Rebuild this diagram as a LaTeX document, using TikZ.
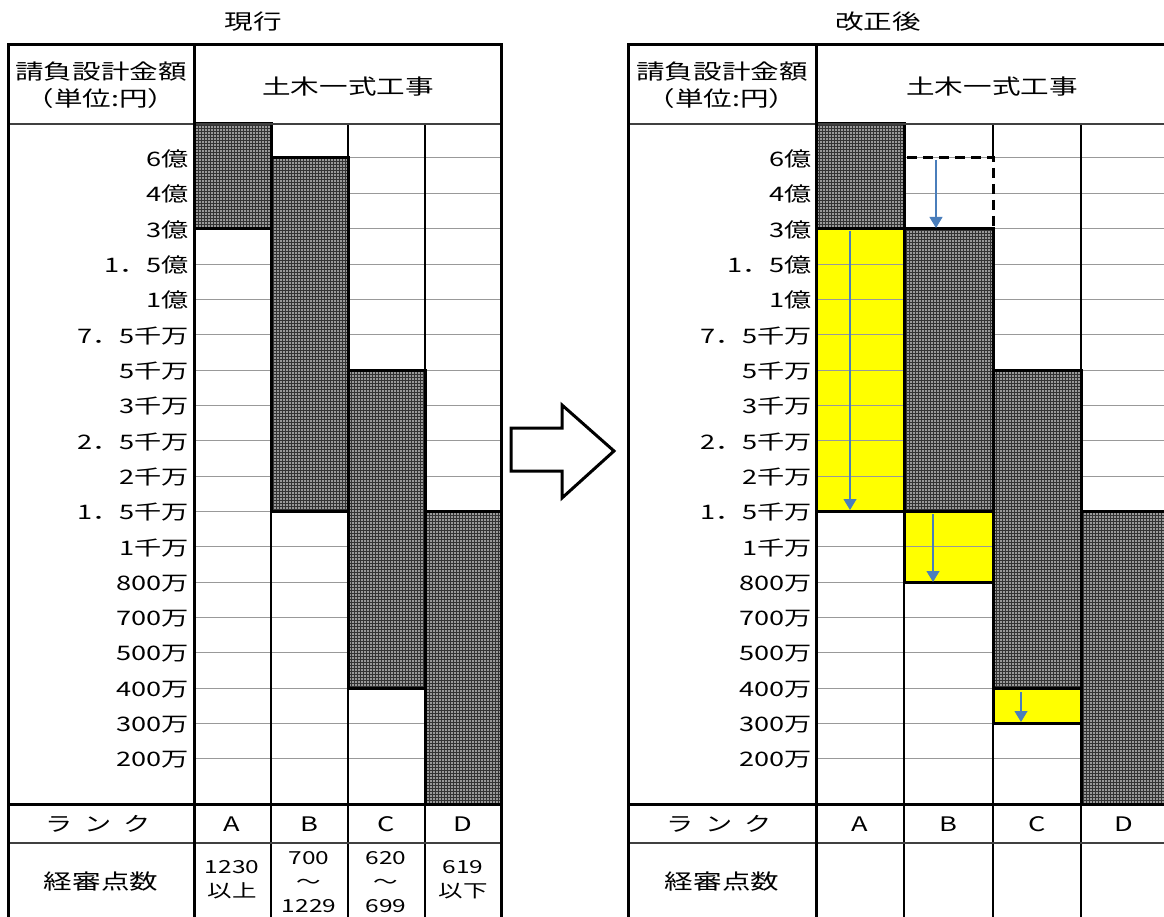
\documentclass[tikz,border=0pt]{standalone}
\usepackage{fontspec}
\newfontfamily\jp{Noto Sans CJK JP}[FakeStretch=1.36]
\usetikzlibrary{arrows.meta,patterns}
\definecolor{arrblue}{HTML}{4A7EBB}
\definecolor{ylw}{HTML}{FFFF00}
\begin{document}
\begin{tikzpicture}[x=1pt,y=-1pt,
  thickln/.style={line width=3pt,draw=black},
  colln/.style={line width=1.4pt,draw=black},
  hdrln/.style={line width=1.2pt,draw=black!75},
  rowln/.style={line width=1pt,draw=black!40},
  grayfill/.style={fill=black!40,postaction={pattern=grid,pattern color=black!80}},
  ylwfill/.style={fill=ylw},
  lbl/.style={font=\jp\fontsize{20}{20}\selectfont,anchor=east,inner sep=0pt},
  hdr/.style={font=\jp\fontsize{21}{27}\selectfont,align=center,inner sep=0pt},
  ttl/.style={font=\jp\fontsize{21}{21}\selectfont,inner sep=0pt},
  rank/.style={font=\jp\fontsize{20}{20}\selectfont,inner sep=0pt},
  score/.style={font=\jp\fontsize{18}{24}\selectfont,align=center,inner sep=0pt},
  bluearr/.style={draw=arrblue,line width=1.1pt,-{Triangle[width=13pt,length=11pt]}},
  dashln/.style={line width=3pt,draw=black,dash pattern=on 10pt off 6pt},
  bigarrow/.style={line width=3pt,draw=black,fill=white,line join=miter}
]
\useasboundingbox (0,0) rectangle (1164,917);
\clip (0,0) rectangle (1164,917);
\fill[white] (0,0) rectangle (1164,917);

% ---------------- titles ----------------
\node[ttl] (t1) at (253,22) {現行};
\node[ttl] (t2) at (878,22) {改正後};

% ================= LEFT TABLE =================
\foreach \k in {0,...,17} {
  \draw[rowln] (194,{158+35.35*\k}) -- (501,{158+35.35*\k});
}
\fill[grayfill] (194,124) rectangle (271,228.7);
\fill[grayfill] (271,158) rectangle (348,511.5);
\fill[grayfill] (348,370.1) rectangle (425,688.25);
\fill[grayfill] (425,511.5) rectangle (501,804);
\foreach \x in {271,348,425} { \draw[colln] (\x,124) -- (\x,930); }
\draw[thickln] (194,124) rectangle (271,228.7);
\draw[thickln] (271,158) rectangle (348,511.5);
\draw[thickln] (348,370.1) rectangle (425,688.25);
\draw[thickln] (425,511.5) rectangle (501,804);
\draw[hdrln] (8,124) -- (501,124);
\draw[hdrln] (8,843) -- (501,843);
\draw[thickln] (8,804) -- (501,804);
\draw[thickln] (194,45) -- (194,930);
\draw[thickln] (8,930) -- (8,45) -- (501,45) -- (501,930);

\node[hdr] (lh1) at (101,85) {請負設計金額\\（単位:円）};
\node[hdr] (lh2) at (348,87) {土木一式工事};
\foreach \t [count=\i from 0] in {6億,4億,3億,1．5億,1億,7．5千万,5千万,3千万,2．5千万,2千万,1．5千万,1千万,800万,700万,500万,400万,300万,200万} {
  \node[lbl] (ll\i) at (189,{159+35.35*\i}) {\t};
}
\node[rank] (lr0) at (98,824) {ラ\hspace{12pt}ン\hspace{12pt}ク};
\node[rank] (lrA) at (232,824) {A};
\node[rank] (lrB) at (309,824) {B};
\node[rank] (lrC) at (386,824) {C};
\node[rank] (lrD) at (463,824) {D};
\node[hdr] (ls0) at (101,882) {経審点数};
\node[score] (lsA) at (232,880) {1230\\以上};
\node[score] (lsB) at (309,882) {700\\〜\\1229};
\node[score] (lsC) at (386,882) {620\\〜\\699};
\node[score] (lsD) at (463,880) {619\\以下};

% ================= BIG ARROW =================
\draw[bigarrow] (511,428) -- (562,428) -- (562,405) -- (614,451) -- (562,498) -- (562,471) -- (511,471) -- cycle;

% ================= RIGHT TABLE =================
\fill[ylwfill] (816,228.7) rectangle (904,511.5);
\fill[ylwfill] (904,511.5) rectangle (993,582.2);
\fill[ylwfill] (993,688.25) rectangle (1081,723.6);
\foreach \k in {0,...,17} {
  \draw[rowln] (816,{158+35.35*\k}) -- (1170,{158+35.35*\k});
}
\fill[grayfill] (816,124) rectangle (904,228.7);
\fill[grayfill] (904,228.7) rectangle (993,511.5);
\fill[grayfill] (993,370.1) rectangle (1081,688.25);
\fill[grayfill] (1081,511.5) rectangle (1170,804);
\draw[colln] (904,124) -- (904,930);
\draw[colln] (993,124) -- (993,158);
\draw[colln] (993,228.7) -- (993,930);
\draw[colln] (1081,124) -- (1081,930);
\draw[thickln] (816,124) rectangle (904,228.7);
\draw[thickln] (816,228.7) rectangle (904,511.5);
\draw[thickln] (904,228.7) rectangle (993,511.5);
\draw[thickln] (904,511.5) rectangle (993,582.2);
\draw[thickln] (993,370.1) rectangle (1081,688.25);
\draw[thickln] (993,688.25) rectangle (1081,723.6);
\draw[thickln] (1081,511.5) rectangle (1170,804);
\draw[hdrln] (628,124) -- (1170,124);
\draw[hdrln] (628,843) -- (1170,843);
\draw[thickln] (628,804) -- (1170,804);
\draw[thickln] (816,45) -- (816,930);
\draw[thickln] (628,930) -- (628,45) -- (1170,45);
% dashed old limit
\coordinate (d1) at (907,158);
\coordinate (d2) at (993,158);
\coordinate (d3) at (993,228.7);
\draw[dashln] (d1) -- (d2) -- (d3);
% blue arrows
\coordinate (a1s) at (850,231);
\coordinate (a1e) at (850,510);
\coordinate (a2s) at (936,160);
\coordinate (a2e) at (936,228);
\coordinate (a3s) at (933,514);
\coordinate (a3e) at (933,582);
\coordinate (a4s) at (1021,692);
\coordinate (a4e) at (1021,722);
\draw[bluearr] (a1s) -- (a1e);
\draw[bluearr] (a2s) -- (a2e);
\draw[bluearr] (a3s) -- (a3e);
\draw[bluearr] (a4s) -- (a4e);

\node[hdr] (rh1) at (722,85) {請負設計金額\\（単位:円）};
\node[hdr] (rh2) at (992,87) {土木一式工事};
\foreach \t [count=\i from 0] in {6億,4億,3億,1．5億,1億,7．5千万,5千万,3千万,2．5千万,2千万,1．5千万,1千万,800万,700万,500万,400万,300万,200万} {
  \node[lbl] (rl\i) at (812,{159+35.35*\i}) {\t};
}
\node[rank] (rr0) at (719,824) {ラ\hspace{12pt}ン\hspace{12pt}ク};
\node[rank] (rrA) at (860,824) {A};
\node[rank] (rrB) at (948,824) {B};
\node[rank] (rrC) at (1037,824) {C};
\node[rank] (rrD) at (1124,824) {D};
\node[hdr] (rs0) at (722,882) {経審点数};
\end{tikzpicture}
\end{document}
